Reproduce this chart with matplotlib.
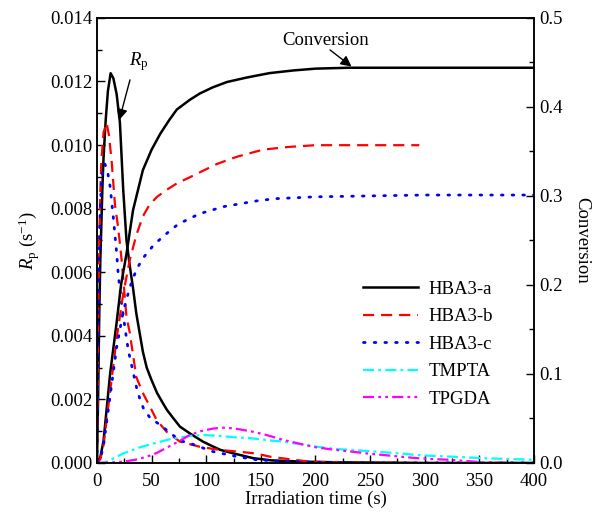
import matplotlib
matplotlib.use("Agg")
import matplotlib.pyplot as plt
from matplotlib.ticker import MultipleLocator, FormatStrFormatter

plt.rcParams["font.family"] = ["Liberation Serif", "DejaVu Serif"]
plt.rcParams["mathtext.fontset"] = "custom"
plt.rcParams["mathtext.rm"] = "Liberation Serif"
plt.rcParams["mathtext.it"] = "Liberation Serif:italic"
plt.rcParams["lines.scale_dashes"] = False
FS = 13.5

# polymerization rate Rp (s^-1) vs irradiation time (s)
t_rp_a = [0, 1, 2, 3, 4, 5, 6, 8, 10, 12.5, 15, 18, 21, 24, 27, 30, 33, 36, 39, 42,
          45.5, 50, 55, 60, 64, 70, 76, 85, 97, 106, 113, 125, 143, 160, 189, 220,
          260, 300, 350, 400]
rp_a = [0, 0.0020, 0.0045, 0.0063, 0.0075, 0.0087, 0.0096, 0.0108, 0.0117, 0.01226,
        0.0121, 0.0116, 0.0107, 0.0086, 0.0070, 0.0062, 0.0055, 0.0047, 0.0041,
        0.0035, 0.0030, 0.0026, 0.0022, 0.0019, 0.00167, 0.0014, 0.00114, 0.00093,
        0.00067, 0.00052, 0.00041, 0.0003, 0.00015, 0.00008, 0.00004, 0.00002,
        0.00001, 0, 0, 0]

t_rp_b = [0, 1, 2, 3, 4, 6, 8.8, 11, 13.4, 16.5, 19, 21, 22.5, 24, 27, 30, 33, 36, 42,
          48.5, 54.6, 63.7, 76, 94, 112, 128, 145, 158, 180, 195, 230, 295]
rp_b = [0, 0.0040, 0.0068, 0.0085, 0.0095, 0.0104, 0.0107, 0.0103, 0.0095, 0.0081,
        0.0075, 0.0069, 0.0064, 0.0058, 0.0046, 0.0041, 0.0034, 0.0027, 0.0022,
        0.00177, 0.00135, 0.00098, 0.00067, 0.00051, 0.00041, 0.00036, 0.0003,
        0.0002, 0.0001, 0.00004, 0.00001, 0]

t_rp_c = [0, 1, 2, 3, 4, 5.5, 7.3, 10, 12, 15, 18, 19.5, 22.6, 25.6, 28.6, 33, 36.3,
          39, 42.4, 48.5, 57.7, 66.8, 76, 85, 106, 128, 146, 170, 200, 250, 300, 350, 400]
rp_c = [0, 0.0040, 0.0065, 0.0080, 0.0088, 0.0093, 0.0094, 0.0091, 0.0087, 0.0077,
        0.0066, 0.0059, 0.0050, 0.00425, 0.00355, 0.00287, 0.00236, 0.00204, 0.00173,
        0.00142, 0.0012, 0.00095, 0.0007, 0.00062, 0.00036, 0.0002, 0.0001, 0.00005,
        0.00002, 0, 0, 0, 0]

t_rp_tmpta = [0, 5, 10, 24, 40, 55, 67, 76, 85, 97, 113, 128, 140, 158, 171, 189, 201,
              219, 232, 250, 262, 280, 293, 308, 323, 353, 380, 400]
rp_tmpta = [0, 0.00001, 0.00005, 0.0003, 0.0005, 0.00064, 0.00075, 0.0008, 0.00085,
            0.00088, 0.00085, 0.00080, 0.00078, 0.00071, 0.00067, 0.00057, 0.00051,
            0.00044, 0.00041, 0.00037, 0.00034, 0.00029, 0.00025, 0.00022, 0.0002,
            0.00015, 0.00012, 0.0001]

t_rp_tpgda = [0, 10, 24, 35, 46, 55, 65, 76, 85, 95, 106, 115, 125, 135, 143, 155,
              171, 186, 201, 216, 232, 247, 262, 277, 293, 308, 323, 338, 353, 368, 385]
rp_tpgda = [0, 0.00001, 0.00004, 0.0001, 0.0002, 0.00032, 0.0005, 0.0007, 0.00088,
            0.001, 0.00108, 0.00111, 0.00109, 0.00103, 0.00098, 0.00088, 0.00072,
            0.0006, 0.00049, 0.00042, 0.00036, 0.0003, 0.00025, 0.0002, 0.00015,
            0.00012, 0.0001, 0.00006, 0.00002, 0.00001, 0]

# conversion vs irradiation time (right axis)
t_cv_a = [0, 3, 6, 12, 18, 22, 27, 33, 42, 50, 58, 66, 73, 85, 94, 106, 119, 137,
          158, 180, 200, 230, 260, 300, 350, 400]
cv_a = [0, 0.006, 0.025, 0.10, 0.158, 0.200, 0.235, 0.284, 0.329, 0.352, 0.370,
        0.385, 0.397, 0.408, 0.415, 0.422, 0.428, 0.433, 0.438, 0.441, 0.443, 0.444,
        0.444, 0.444, 0.444, 0.444]

t_cv_b = [0, 3, 6, 12, 18, 24, 30, 36, 42, 48, 55, 64, 73, 85, 95, 110, 128, 152,
          175, 200, 230, 260, 295]
cv_b = [0, 0.004, 0.02, 0.08, 0.14, 0.19, 0.228, 0.256, 0.277, 0.290, 0.299, 0.307,
        0.314, 0.321, 0.327, 0.336, 0.344, 0.352, 0.355, 0.357, 0.357, 0.357, 0.357]

t_cv_c = [0, 3, 6, 12, 18, 24, 30, 36, 42, 52, 62, 73, 82, 94, 116, 149, 165, 200,
          250, 300, 350, 400]
cv_c = [0, 0.004, 0.02, 0.075, 0.13, 0.17, 0.197, 0.217, 0.230, 0.245, 0.256, 0.267,
        0.273, 0.280, 0.288, 0.295, 0.297, 0.299, 0.300, 0.301, 0.301, 0.301]

styles = {
    "HBA3-a": dict(color="black", lw=1.8, ls="-"),
    "HBA3-b": dict(color="red", lw=1.6, dashes=(8, 5)),
    "HBA3-c": dict(color="blue", lw=2.0, dashes=(1.2, 6.5), dash_capstyle="round"),
    "TMPTA": dict(color="cyan", lw=1.6, dashes=(8, 3, 2, 3)),
    "TPGDA": dict(color="magenta", lw=1.6, dashes=(8, 3, 2, 3, 2, 3)),
}

fig = plt.figure(figsize=(5.95, 5.19), dpi=100)
ax = fig.add_axes([0.163, 0.108, 0.7345, 0.8575])
ax2 = ax.twinx()

ax.plot(t_rp_a, rp_a, label="HBA3-a", **styles["HBA3-a"])
ax.plot(t_rp_b, rp_b, label="HBA3-b", **styles["HBA3-b"])
ax.plot(t_rp_c, rp_c, label="HBA3-c", **styles["HBA3-c"])
ax.plot(t_rp_tmpta, rp_tmpta, label="TMPTA", **styles["TMPTA"])
ax.plot(t_rp_tpgda, rp_tpgda, label="TPGDA", **styles["TPGDA"])

ax2.plot(t_cv_a, cv_a, **styles["HBA3-a"])
ax2.plot(t_cv_b, cv_b, **styles["HBA3-b"])
ax2.plot(t_cv_c, cv_c, **styles["HBA3-c"])

ax.set_xlim(0, 400)
ax.set_ylim(0, 0.014)
ax2.set_ylim(0, 0.5)

ax.xaxis.set_major_locator(MultipleLocator(50))
ax.xaxis.set_minor_locator(MultipleLocator(25))
ax.yaxis.set_major_locator(MultipleLocator(0.002))
ax.yaxis.set_minor_locator(MultipleLocator(0.001))
ax.yaxis.set_major_formatter(FormatStrFormatter("%.3f"))
ax2.yaxis.set_major_locator(MultipleLocator(0.1))
ax2.yaxis.set_minor_locator(MultipleLocator(0.05))
ax2.yaxis.set_major_formatter(FormatStrFormatter("%.1f"))

ax.tick_params(which="both", direction="in", labelsize=FS, top=False, right=False, width=1.0)
ax.tick_params(which="major", length=6)
ax.tick_params(which="minor", length=3.5)
ax.tick_params(axis="x", pad=7)
ax2.tick_params(which="both", direction="in", labelsize=FS, width=1.0)
ax2.tick_params(which="major", length=6)
ax2.tick_params(which="minor", length=3.5)
for a in (ax, ax2):
    for s in a.spines.values():
        s.set_linewidth(1.1)

ax.set_xlabel("Irradiation time (s)", fontsize=FS, labelpad=1)
ax.set_ylabel("$R_\\mathrm{p}$ (s$^{-1}$)", fontsize=FS, labelpad=6)
ax2.set_ylabel("Conversion", fontsize=FS, rotation=270, labelpad=20)

# curve labels with arrows
ax.text(38.5, 0.01262, "$R_\\mathrm{p}$", fontsize=FS, ha="center", va="center")
ax.annotate("", xy=(20.4, 0.01079), xytext=(30.2, 0.01205),
            arrowprops=dict(arrowstyle="-|>", color="black", lw=1.0, mutation_scale=16,
                            shrinkA=0, shrinkB=0))
ax2.text(209, 0.475, "Conversion", fontsize=FS, ha="center", va="center")
ax2.annotate("", xy=(233, 0.4453), xytext=(213.3, 0.464),
             arrowprops=dict(arrowstyle="-|>", color="black", lw=1.0, mutation_scale=16,
                             shrinkA=0, shrinkB=0))

ax.legend(loc="center left", bbox_to_anchor=(0.609, 0.267), frameon=False,
          fontsize=FS, handlelength=2.9, handletextpad=0.6, labelspacing=0.55,
          borderpad=0, borderaxespad=0)

fig.savefig("out.png", dpi=100)
